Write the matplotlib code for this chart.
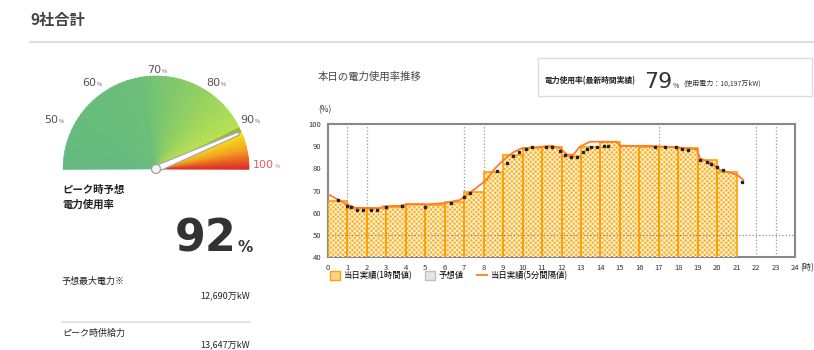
import numpy as np
import matplotlib.pyplot as plt
from matplotlib.patches import Wedge, Rectangle, Polygon, Circle, Patch
from matplotlib.lines import Line2D
from matplotlib.colors import to_rgb

plt.rcParams['font.family'] = ['Noto Sans CJK JP', 'DejaVu Sans']
plt.rcParams['hatch.linewidth'] = 0.7

# --- data ---
hours = list(range(21))
hourly_usage = [65.2, 61.9, 61.9, 62.7, 63.7, 63.4, 64.9, 69.5, 78.5, 86.0,
                89.2, 89.9, 85.5, 89.5, 92.1, 90.2, 89.9, 89.6, 89.1, 83.8, 78.5]

five_min_hours = [0.0, 0.45, 0.96, 1.39, 2.67, 2.84, 3.7, 4.04, 5.07, 6.0,
                  6.78, 7.13, 7.64, 8.15, 8.58, 9.01, 9.52, 9.95, 11.07, 11.5,
                  11.92, 12.27, 12.6, 12.95, 13.46, 14.84, 14.99, 16.03, 16.55,
                  17.92, 18.95, 19.12, 19.63, 20.14, 21.0, 21.34]
five_min_usage = [68.3, 66.2, 63.8, 62.2, 61.9, 62.8, 63.1, 63.7, 63.7, 64.3,
                  65.7, 68.0, 71.3, 74.8, 80.0, 83.8, 87.3, 89.1, 89.9, 90.3,
                  89.1, 86.4, 86.1, 89.9, 92.1, 92.1, 90.3, 90.2, 90.2,
                  89.6, 88.7, 84.6, 82.6, 79.3, 77.3, 74.8]

dot_hours = [0.5, 1.0, 1.2, 1.5, 1.8, 2.2, 2.5, 3.0, 3.8, 5.0, 6.3, 7.0, 7.3,
             8.7, 9.2, 9.5, 9.8, 10.2, 10.5, 11.2, 11.5, 11.9, 12.2, 12.5,
             12.8, 13.1, 13.3, 13.5, 13.8, 14.2, 14.4, 16.8, 17.3, 17.9, 18.2,
             18.5, 19.1, 19.5, 19.7, 20.0, 20.3, 21.3]
dot_usage = [65.5, 63.0, 62.5, 61.0, 61.0, 61.0, 61.0, 62.5, 62.8, 62.5, 64.5,
             67.0, 68.8, 79.0, 82.5, 85.5, 87.5, 88.8, 89.5, 89.5, 89.5, 88.0,
             86.0, 85.0, 85.3, 87.5, 88.8, 89.5, 89.8, 90.0, 90.0, 89.5, 89.5,
             89.5, 88.8, 88.5, 84.0, 83.0, 82.0, 80.5, 79.5, 74.0]

x_ticks = list(range(25))
y_ticks = [40, 50, 60, 70, 80, 90, 100]
grid_hours = [1, 2, 7, 8, 17, 22, 23]

gauge_ticks = [50, 60, 70, 80, 90, 100]
gauge_angles = [157, 126, 90, 56, 29, 0]
peak_usage = 92
latest_usage = 79
forecast_peak = "12,690万kW"
peak_supply = "13,647万kW"

# --- figure ---
fig = plt.figure(figsize=(8.14, 3.5), dpi=100)

# overlay in pixel coordinates (y downwards) for the left panel and headings
pan = fig.add_axes([0, 0, 1, 1])
pan.set_xlim(0, 814)
pan.set_ylim(350, 0)
pan.set_axis_off()

pan.text(30, 20, "9社合計", fontsize=11, fontweight='bold', color='#444',
         va='center', ha='left')
pan.plot([30, 814], [42, 42], color='#dddddd', lw=1.5)

# gauge
cx, cy, rad = 156, 169, 93


def blend(c1, c2, t):
    a, b = np.array(to_rgb(c1)), np.array(to_rgb(c2))
    return a + (b - a) * t


def gradient_arc(stops, steps):
    for (a0, c0), (a1, c1) in zip(stops[:-1], stops[1:]):
        ts = np.linspace(0, 1, steps)
        for t0, t1 in zip(ts[:-1], ts[1:]):
            th_hi = a0 + (a1 - a0) * t0
            th_lo = a0 + (a1 - a0) * t1
            col = blend(c0, c1, t0)
            pan.add_patch(Wedge((cx, cy), rad, -th_hi - 0.4, -th_lo + 0.4,
                                facecolor=col, edgecolor=col, lw=0.3))


needle_angle = np.interp(peak_usage, gauge_ticks, gauge_angles)

gradient_arc([(180, '#64ba80'), (100, '#6dbf78'), (60, '#93d062'),
              (needle_angle, '#bde253')], 30)
gradient_arc([(needle_angle, '#f6e71e'), (12, '#f3a21f'), (0, '#df2a27')], 20)

# olive shadow above the needle
pan.add_patch(Wedge((cx, cy), rad, -(needle_angle + 3.5), -needle_angle,
                    width=rad - 30, color='#9cb83a', lw=0))

th = np.radians(needle_angle)
ux, uy = np.cos(th), -np.sin(th)
px, py = -uy, ux
tip = rad - 3
hw = 3.2
needle = Polygon([(cx + px * hw, cy + py * hw),
                  (cx + ux * tip + px * 1.6, cy + uy * tip + py * 1.6),
                  (cx + ux * tip - px * 1.6, cy + uy * tip - py * 1.6),
                  (cx - px * hw, cy - py * hw)],
                 closed=True, facecolor='white', edgecolor='#a8a8a8', lw=0.9)
pan.add_patch(needle)
pan.add_patch(Circle((cx, cy), 4.5, facecolor='#f4f4f4', edgecolor='#a0a0a0', lw=0.9))

gauge_label_pos = [(44, 120), (82, 83), (147, 70), (206, 83), (240, 120), (253, 165)]
for val, (lx, ly) in zip(gauge_ticks, gauge_label_pos):
    col = '#e85a5a' if val == 100 else '#555555'
    pan.text(lx, ly, str(val), fontsize=8, color=col, ha='left', va='center',
             family='DejaVu Sans')
    width = 7.1 * len(str(val))
    pan.text(lx + width + 0.5, ly + 1.5, "%", fontsize=4, color=col, ha='left', va='center')

# left panel texts
pan.text(62, 190, "ピーク時予想", fontsize=7.5, fontweight='bold', color='#222', va='center')
pan.text(62, 205, "電力使用率", fontsize=7.5, fontweight='bold', color='#222', va='center')
pan.text(237, 252, str(peak_usage), fontsize=32, fontweight='bold', color='#333',
         ha='right', va='baseline', family='DejaVu Sans')
pan.text(238, 252, "%", fontsize=11, fontweight='bold', color='#333',
         ha='left', va='baseline', family='DejaVu Sans')

pan.text(62, 281, "予想最大電力※", fontsize=6.5, color='#222', va='center')
pan.text(250, 296, forecast_peak, fontsize=6.5, color='#222', va='center', ha='right')
pan.plot([62, 250], [322, 322], color='#dddddd', lw=1.2)
pan.text(62, 333, "ピーク時供給力", fontsize=6.5, color='#222', va='center')
pan.text(250, 345, peak_supply, fontsize=6.5, color='#222', va='center', ha='right')

# chart headings
pan.text(318, 77, "本日の電力使用率推移", fontsize=7.5, color='#444', va='center')
pan.add_patch(Rectangle((538, 58), 274, 38, facecolor='white', edgecolor='#dcdcdc', lw=1))
pan.text(545, 81, "電力使用率(最新時間実績)", fontsize=5.6, fontweight='bold',
         color='#222', va='center')
pan.text(644, 88, str(latest_usage), fontsize=16, color='#333', ha='left',
         va='baseline', family='DejaVu Sans')
pan.text(673, 88, "%", fontsize=5, color='#333', ha='left', va='baseline')
pan.text(683, 84, "(使用電力：10,197万kW)", fontsize=5, color='#333', va='center')
pan.text(318, 110, "(%)", fontsize=6, color='#333', va='center')
pan.text(800, 268, "(時)", fontsize=6, color='#333', va='center')

# --- usage chart ---
ax = fig.add_axes([328 / 814, 1 - 256.7 / 350, 467 / 814, 132.4 / 350])
ax.set_xlim(0, 24)
ax.set_ylim(40, 100)

ax.vlines(grid_hours, 40, 100, colors='#999999', linestyles=':', lw=0.9, zorder=1)
ax.bar(hours, hourly_usage, width=1, align='edge', color='#fdb22c', lw=0, zorder=2)
ax.bar(hours, hourly_usage, width=1, align='edge', facecolor='none',
       edgecolor='#fff4dc', hatch='xxxxxxx', lw=0, zorder=3)
ax.bar(hours, hourly_usage, width=1, align='edge', facecolor='none',
       edgecolor='#ffa000', lw=1.2, zorder=4)
ax.axhline(50, color='#888888', ls=':', lw=0.9, zorder=5)
ax.plot(five_min_hours, five_min_usage, color='#ff7a2a', lw=1.3, zorder=6)
ax.plot(dot_hours, dot_usage, 's', ms=1.6, color='#222222', zorder=7)

ax.set_xticks(x_ticks)
ax.set_xticklabels([str(h) for h in x_ticks], fontsize=5.5, color='#333')
ax.set_yticks(y_ticks)
ax.set_yticklabels([str(v) for v in y_ticks], fontsize=5.5, color='#333')
ax.tick_params(length=0, pad=5)
for s in ax.spines.values():
    s.set_color('#888888')
    s.set_linewidth(1.5)

handles = [Patch(facecolor='#fdd38a', edgecolor='#ffa000', lw=1),
           Patch(facecolor='#e4e4e4', edgecolor='#c0c0c0', lw=1),
           Line2D([], [], color='#ff7a2a', lw=1.3)]
labels = ["当日実績(1時間値)", "予想値", "当日実績(5分間隔値)"]
ax.legend(handles, labels, loc='upper left', bbox_to_anchor=(330 / 814, 1 - 271 / 350),
          bbox_transform=fig.transFigure, ncol=3, frameon=False, fontsize=6,
          handlelength=1.2, handleheight=1.2, handletextpad=0.4, columnspacing=1.6,
          borderpad=0, borderaxespad=0)

fig.savefig("out.png", dpi=100)
